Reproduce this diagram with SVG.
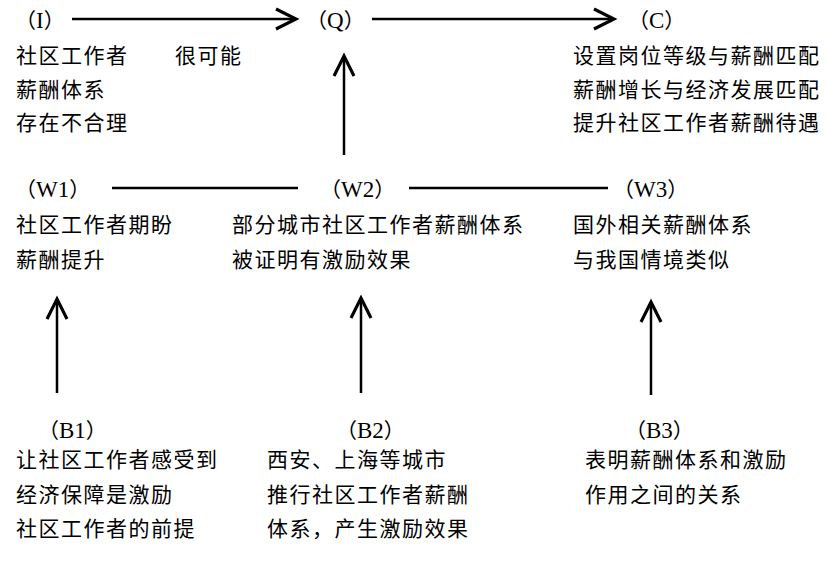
<svg xmlns="http://www.w3.org/2000/svg" width="827" height="564" viewBox="0 0 827 564">
<style>
  text { font-family: "Noto Sans CJK SC", "Liberation Serif", sans-serif; font-size: 21px; fill: #000; letter-spacing: 1.5px; }
  .lbl { letter-spacing: 0; }
  .lat { font-family: "Liberation Serif", serif; font-size: 23px; }
  .conn { stroke: #000; stroke-width: 2.5; fill: none; }
</style>
<defs>
  <marker id="arr" markerUnits="userSpaceOnUse" markerWidth="30" markerHeight="30" viewBox="-20 -12 24 24" refX="0" refY="0" orient="auto">
    <path d="M-16,-8 L0,0 L-16,8" fill="none" stroke="#000" stroke-width="2.5" stroke-linejoin="miter"/>
  </marker>
</defs>
<rect width="827" height="564" fill="#fff"/>

<g id="connectors">
  <line class="conn" x1="72" y1="19" x2="296" y2="19" marker-end="url(#arr)"/>
  <line class="conn" x1="372" y1="19" x2="614" y2="19" marker-end="url(#arr)"/>
  <line class="conn" x1="344" y1="155" x2="344" y2="56" marker-end="url(#arr)"/>
  <line class="conn" x1="112" y1="188" x2="298" y2="188"/>
  <line class="conn" x1="409" y1="188" x2="608" y2="188"/>
  <line class="conn" x1="57" y1="393" x2="57" y2="299" marker-end="url(#arr)"/>
  <line class="conn" x1="361" y1="393" x2="361" y2="298" marker-end="url(#arr)"/>
  <line class="conn" x1="651" y1="395" x2="651" y2="302" marker-end="url(#arr)"/>
</g>

<g id="node-I">
  <text class="lbl" x="15" y="28">（<tspan class="lat">I</tspan>）</text>
  <text x="16" y="63">社区工作者</text>
  <text x="16" y="97">薪酬体系</text>
  <text x="16" y="130">存在不合理</text>
</g>
<g id="edge-label-I-Q">
  <text x="175" y="63">很可能</text>
</g>
<g id="node-Q">
  <text class="lbl" x="306" y="28">（<tspan class="lat">Q</tspan>）</text>
</g>
<g id="node-C">
  <text class="lbl" x="628" y="28">（<tspan class="lat">C</tspan>）</text>
  <text x="573" y="63">设置岗位等级与薪酬匹配</text>
  <text x="573" y="97">薪酬增长与经济发展匹配</text>
  <text x="573" y="130">提升社区工作者薪酬待遇</text>
</g>

<g id="node-W1">
  <text class="lbl" x="15" y="197">（<tspan class="lat">W1</tspan>）</text>
  <text x="16" y="232">社区工作者期盼</text>
  <text x="16" y="267">薪酬提升</text>
</g>
<g id="node-W2">
  <text class="lbl" x="320" y="197">（<tspan class="lat">W2</tspan>）</text>
  <text x="232" y="232">部分城市社区工作者薪酬体系</text>
  <text x="232" y="267">被证明有激励效果</text>
</g>
<g id="node-W3">
  <text class="lbl" x="613" y="197">（<tspan class="lat">W3</tspan>）</text>
  <text x="573" y="232">国外相关薪酬体系</text>
  <text x="573" y="267">与我国情境类似</text>
</g>

<g id="node-B1">
  <text class="lbl" x="38" y="438">（<tspan class="lat">B1</tspan>）</text>
  <text x="16" y="467">让社区工作者感受到</text>
  <text x="16" y="502">经济保障是激励</text>
  <text x="16" y="536">社区工作者的前提</text>
</g>
<g id="node-B2">
  <text class="lbl" x="336" y="438">（<tspan class="lat">B2</tspan>）</text>
  <text x="267" y="467">西安、上海等城市</text>
  <text x="267" y="502">推行社区工作者薪酬</text>
  <text x="267" y="536">体系，产生激励效果</text>
</g>
<g id="node-B3">
  <text class="lbl" x="625" y="438">（<tspan class="lat">B3</tspan>）</text>
  <text x="585" y="467">表明薪酬体系和激励</text>
  <text x="585" y="502">作用之间的关系</text>
</g>
</svg>
